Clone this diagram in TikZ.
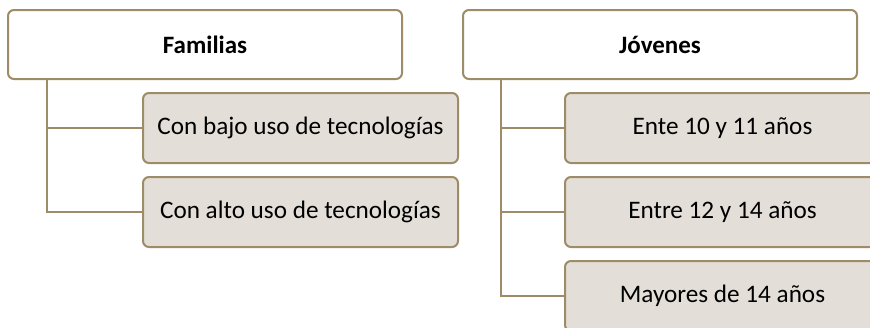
\documentclass[tikz,border=0pt]{standalone}
\usepackage{fontspec}
\setmainfont{Carlito}
\usetikzlibrary{calc}
\definecolor{bord}{HTML}{9E8B68}
\definecolor{boxfill}{HTML}{E3DFD8}
\tikzset{
  parentbox/.style={draw=bord, line width=2pt, fill=white, rounded corners=6pt,
    minimum width=394pt, minimum height=69pt, inner sep=0pt,
    font=\fontsize{25}{30}\selectfont\bfseries},
  childbox/.style={draw=bord, line width=2pt, fill=boxfill, rounded corners=6pt,
    minimum width=315pt, minimum height=70pt, inner sep=0pt,
    font=\fontsize{25.2}{30}\selectfont},
  conn/.style={draw=bord, line width=2pt}
}
\begin{document}
\begin{tikzpicture}[x=1pt,y=-1pt]
\useasboundingbox (0,0) rectangle (870,327);
\clip (0,0) rectangle (870,327);
\node[parentbox] (lp) at (205,44.5) {Familias};
\node[childbox] (l1) at (300.5,128) {Con bajo uso de tecnologías};
\node[childbox] (l2) at (300.5,212) {Con alto uso de tecnologías};
\node[parentbox] (rp) at (660,44.5) {Jóvenes};
\node[childbox] (r1) at (722.5,128) {Ente 10 y 11 años};
\node[childbox] (r2) at (722.5,212) {Entre 12 y 14 años};
\node[childbox] (r3) at (722.5,296) {Mayores de 14 años};
\coordinate (lstem) at ($(lp.south west)+(40,0)$);
\coordinate (rstem) at ($(rp.south west)+(39,0)$);
\draw[conn] (lstem) |- (l1.west);
\draw[conn] (lstem) |- (l2.west);
\draw[conn] (rstem) |- (r1.west);
\draw[conn] (rstem) |- (r2.west);
\draw[conn] (rstem) |- (r3.west);
\end{tikzpicture}
\end{document}
